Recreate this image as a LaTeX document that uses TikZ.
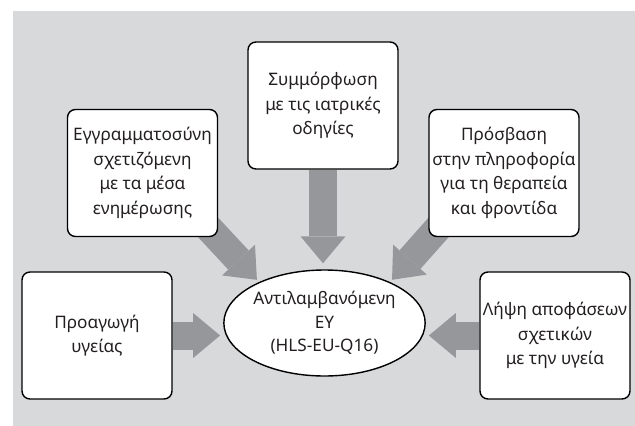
\documentclass[tikz,border=0pt]{standalone}
\usepackage{fontspec}
\setmainfont{Noto Sans}
\usetikzlibrary{arrows.meta,shapes.geometric}
\definecolor{bggrey}{HTML}{D8D9DA}
\definecolor{arrgrey}{HTML}{96979A}
\definecolor{txt}{HTML}{231F20}
\pgfdeclarelayer{bglayer}
\pgfdeclarelayer{arrowlayer}
\pgfsetlayers{bglayer,arrowlayer,main}
\tikzset{
  box/.style={draw=black, line width=1.4pt, fill=white, rounded corners=8pt,
    minimum width=150pt, minimum height=127pt, inner sep=0pt, align=center,
    text=txt, font=\fontsize{17.2}{24.5}\selectfont},
  oval/.style={ellipse, draw=black, line width=1.4pt, fill=white,
    minimum width=192pt, minimum height=106pt, inner sep=0pt, align=center,
    text=txt, font=\fontsize{17.2}{23.5}\selectfont},
  bigarrow/.style={draw=arrgrey, line width=28pt,
    -{Triangle[width=45pt,length=27pt,line width=0pt]}, shorten >=3pt}
}
\begin{document}
\begin{tikzpicture}[x=1pt,y=-1pt]
\useasboundingbox (0,0) rectangle (635,426);
\begin{pgfonlayer}{bglayer}
\fill[bggrey] (13,11) rectangle (635,426);
\end{pgfonlayer}
\node[box] (top) at (323,105.5) {Συμμόρφωση\\με τις ιατρικές\\οδηγίες};
\node[box] (ul) at (142.5,173) {Εγγραμματοσύνη\\σχετιζόμενη\\με τα μέσα\\ενημέρωσης};
\node[box] (ur) at (504,173) {Πρόσβαση\\στην πληροφορία\\για τη θεραπεία\\και φροντίδα};
\node[box] (ll) at (97,335.5) {Προαγωγή\\υγείας};
\node[box] (lr) at (555,335.5) {Λήψη αποφάσεων\\σχετικών\\με την υγεία};
\node[oval] (ell) at (324.5,323) {Αντιλαμβανόμενη\\ΕΥ\\(HLS-EU-Q16)};
\begin{pgfonlayer}{arrowlayer}
\draw[bigarrow, shorten >=6pt] (top.south) -- (top.south |- ell.north);
\draw[bigarrow] (ll.east) -- (ll.east -| ell.west);
\draw[bigarrow] (lr.west) -- (lr.west -| ell.east);
\draw[bigarrow] ([shift={(-14,-14)}]ul.south east) -- (ell.148);
\draw[bigarrow] ([shift={(14,-14)}]ur.south west) -- (ell.32);
\end{pgfonlayer}
\end{tikzpicture}
\end{document}
